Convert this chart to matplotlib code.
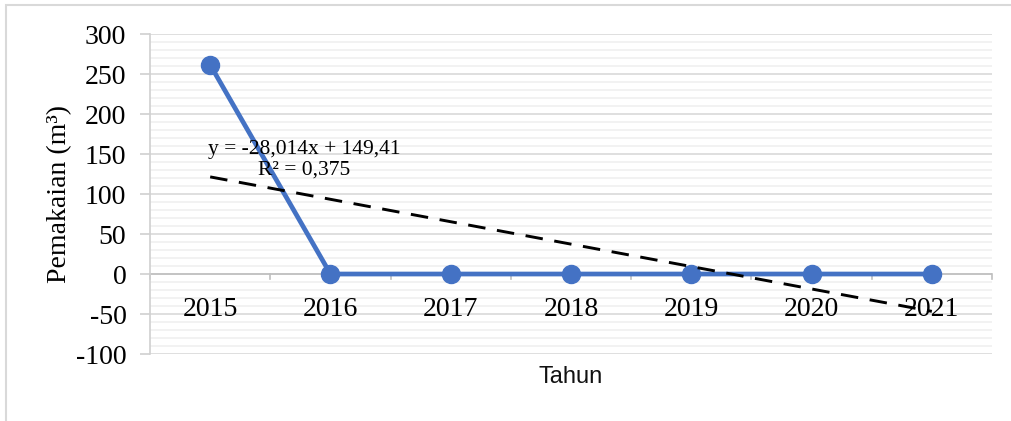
import numpy as np
import matplotlib
matplotlib.use("Agg")
import matplotlib.pyplot as plt
from matplotlib.patches import Rectangle
from matplotlib.ticker import MultipleLocator, FixedLocator

# data
years = ["2015", "2016", "2017", "2018", "2019", "2020", "2021"]
usage = [261.5, 0, 0, 0, 0, 0, 0]
trend_label = "y = -28,014x + 149,41\nR² = 0,375"

blue = "#4472C4"
serif = "Liberation Serif"
plt.rcParams["axes.unicode_minus"] = False

fig = plt.figure(figsize=(10.11, 4.21), dpi=100)
ax = fig.add_axes([0.1484, 0.1591, 0.9812 - 0.1484, 0.9192 - 0.1591])

x = np.arange(len(years))

# linear trend over x = 1..n, as Excel does
coef = np.polyfit(x + 1, usage, 1)
trend = np.polyval(coef, x + 1)

ax.plot(x, usage, color=blue, linewidth=3.4, marker="o", markersize=13,
        zorder=4, solid_capstyle="round")
ax.plot(x, trend, color="black", linewidth=2.1, linestyle=(0, (6, 4)), zorder=5)

ax.set_xlim(-0.5, len(years) - 0.5)
ax.set_ylim(-100, 300)

# gridlines
ax.yaxis.set_major_locator(MultipleLocator(50))
ax.yaxis.set_minor_locator(MultipleLocator(10))
ax.grid(which="major", axis="y", color="#d9d9d9", linewidth=1.2)
ax.grid(which="minor", axis="y", color="#f0f0f0", linewidth=1.2)
ax.set_axisbelow(True)

for side in ["top", "right", "bottom"]:
    ax.spines[side].set_visible(False)
ax.spines["left"].set_color("#d0d0d0")
ax.spines["left"].set_linewidth(1.2)

# category axis sits on y = 0
ax.axhline(0, color="#bfbfbf", linewidth=1.2, zorder=2)
ax.xaxis.set_major_locator(FixedLocator(np.arange(-0.5, len(years), 1.0)))
ax.tick_params(axis="x", which="major", length=0, labelbottom=False)
for b in np.arange(-0.5, len(years), 1.0):
    ax.plot([b, b], [0, -6], color="#bfbfbf", linewidth=1.2, zorder=2,
            clip_on=False)
for xi, yr in zip(x, years):
    ax.text(xi, -44, yr, ha="center", va="center", fontsize=20,
            family=serif, color="black", zorder=3)

ax.tick_params(axis="y", which="major", length=7, color="#d0d0d0", width=1.2,
               labelsize=20, pad=10)
ax.tick_params(axis="y", which="minor", length=0)
for lab in ax.get_yticklabels():
    lab.set_family(serif)

ax.set_ylabel("Pemakaian (m³)", fontsize=20, family=serif, labelpad=3)
fig.text(0.564, 0.105, "Tahun", ha="center", va="center", fontsize=17,
         family="Liberation Sans", color="#111111")

ax.text(0.78, 143, trend_label, ha="center", va="center", fontsize=15.5,
        family=serif, linespacing=1.15, zorder=6)

# chart area border
fig.patches.append(Rectangle((6 / 1011, -0.05), 1.2, 1 - 5 / 421 + 0.05,
                             transform=fig.transFigure, fill=False,
                             edgecolor="#d9d9d9", linewidth=1.5))

fig.savefig("out.png", dpi=100)
